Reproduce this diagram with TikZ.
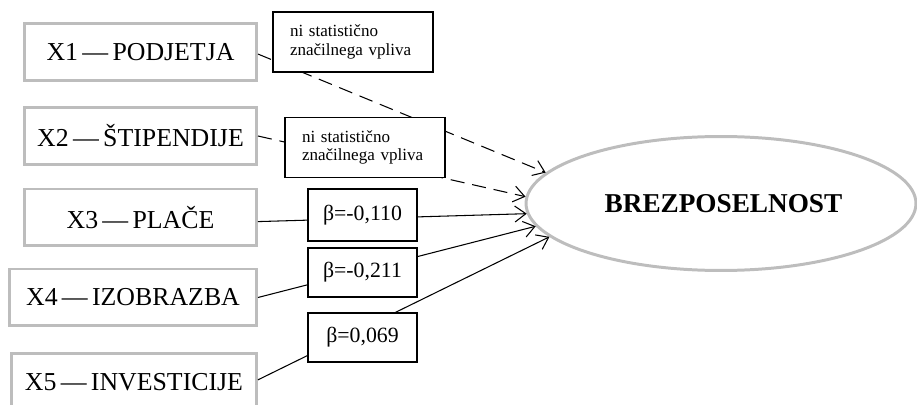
\documentclass[tikz,border=0pt]{standalone}
\usepackage{fontspec}
\setmainfont{Liberation Serif}
\usepackage{xcolor}
\usepackage{tikz}
\usetikzlibrary{shapes,arrows,arrows.meta}
\definecolor{framegray}{HTML}{BDBDBD}
\tikzstyle{varblock} = [rectangle, draw=framegray, line width=1.7pt, minimum width=4.64cm, minimum height=1.14cm, font=\fontsize{14.7}{17}\selectfont]
\tikzstyle{target} = [ellipse, draw=framegray, line width=1.7pt, minimum width=7.8cm, minimum height=2.68cm, font=\fontsize{15.5}{18}\selectfont]
\tikzstyle{coef} = [rectangle, draw, fill=white, line width=0.8pt, minimum width=2.18cm, minimum height=1.04cm, font=\fontsize{12.4}{14}\selectfont]
\tikzstyle{note} = [rectangle, draw, fill=white, line width=0.8pt, minimum width=3.2cm, minimum height=1.2cm, text width=2.52cm, align=left, font=\fontsize{9.7}{10.6}\selectfont]
\tikzstyle{line} = [draw, line width=0.6pt, -{Straight Barb[length=2.2mm,width=3.2mm]}]
\tikzstyle{nsline} = [line, dash pattern=on 8pt off 4.5pt]

\begin{document}
\begin{tikzpicture}[x=0.02cm, y=-0.02cm]
        \useasboundingbox (0,0) rectangle (917,405);
        % Place nodes
        \node [varblock] (x1) at (140.5,52) {X1\,—\,PODJETJA};
        \node [varblock] (x2) at (140.5,136) {X2\,—\,ŠTIPENDIJE};
        \node [varblock] (x3) at (140.5,217.5) {X3\,—\,PLAČE};
        \node [varblock, minimum width=4.94cm] (x4) at (133,297.5) {X4\,—\,IZOBRAZBA};
        \node [varblock, minimum width=4.9cm] (x5) at (134,382) {X5\,—\,INVESTICIJE};
        \node [target] (brez) at (721,203.5) {\hspace{0.1cm}\textbf{BREZPOSELNOST}};
        % Draw edges
        \path [nsline] (x1.-1.5) -- (brez.170);
        \path [nsline] (x2.east) -- (brez.178);
        \path [line] (x3.-2) -- (brez.183);
        \path [line] (x4.east) -- (brez.187);
        \path [line] (x5.1) -- (brez.191);
        % Place coefficients
        \node [note] (ns1) at (353,42) {ni statistično\\značilnega vpliva};
        \node [note] (ns2) at (365,147.5) {ni statistično\\značilnega vpliva};
        \node [coef] (b3) at (362.5,215) {β=-0,110};
        \node [coef, minimum height=0.98cm] (b4) at (362.5,272.5) {β=-0,211};
        \node [coef, minimum height=0.98cm] (b5) at (362.5,337.5) {β=0,069};
    \end{tikzpicture}
\end{document}
